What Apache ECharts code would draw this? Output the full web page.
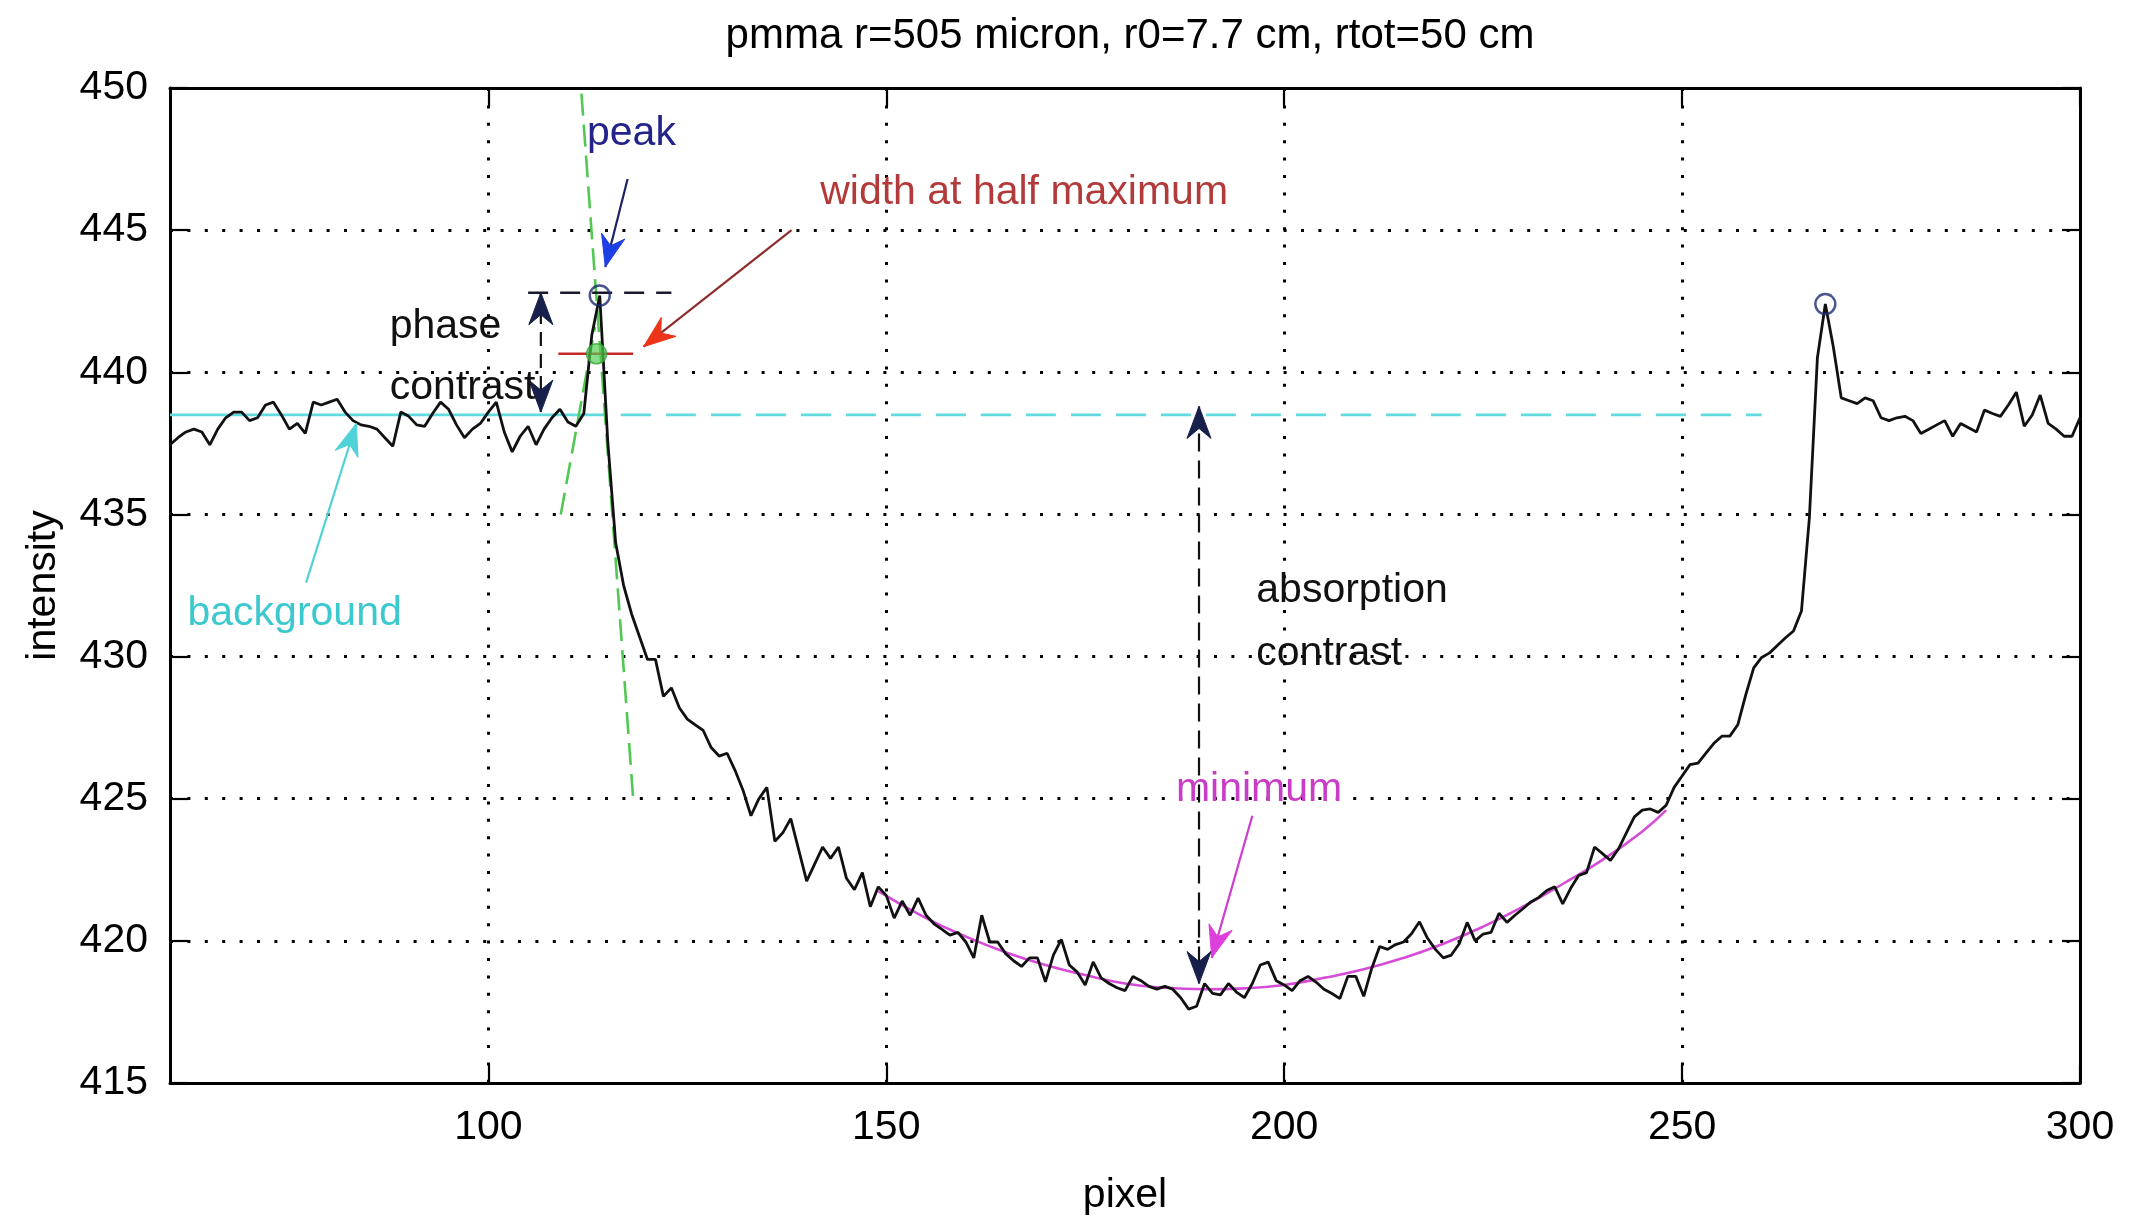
<!DOCTYPE html>
<html>
<head>
<meta charset="utf-8">
<title>pmma profile</title>
<script src="https://cdn.jsdelivr.net/npm/echarts@6/dist/echarts.min.js"></script>
<style>
  html, body { margin: 0; padding: 0; background: #ffffff; }
  #chart { width: 2129px; height: 1216px; }
</style>
</head>
<body>
<div id="chart"></div>
<script>
// ---- measured line profile (detector pixel vs. intensity) ----
const pixel = [
  60, 61, 62, 63, 64, 65, 66, 67, 68, 69, 70, 71, 72, 73, 74, 75, 76, 77, 78, 79,
  80, 81, 82, 83, 84, 85, 86, 87, 88, 89, 90, 91, 92, 93, 94, 95, 96, 97, 98, 99,
  100, 101, 102, 103, 104, 105, 106, 107, 108, 109, 110, 111, 112, 113, 114, 115, 116, 117, 118, 119,
  120, 121, 122, 123, 124, 125, 126, 127, 128, 129, 130, 131, 132, 133, 134, 135, 136, 137, 138, 139,
  140, 141, 142, 143, 144, 145, 146, 147, 148, 149, 150, 151, 152, 153, 154, 155, 156, 157, 158, 159,
  160, 161, 162, 163, 164, 165, 166, 167, 168, 169, 170, 171, 172, 173, 174, 175, 176, 177, 178, 179,
  180, 181, 182, 183, 184, 185, 186, 187, 188, 189, 190, 191, 192, 193, 194, 195, 196, 197, 198, 199,
  200, 201, 202, 203, 204, 205, 206, 207, 208, 209, 210, 211, 212, 213, 214, 215, 216, 217, 218, 219,
  220, 221, 222, 223, 224, 225, 226, 227, 228, 229, 230, 231, 232, 233, 234, 235, 236, 237, 238, 239,
  240, 241, 242, 243, 244, 245, 246, 247, 248, 249, 250, 251, 252, 253, 254, 255, 256, 257, 258, 259,
  260, 261, 262, 263, 264, 265, 266, 267, 268, 269, 270, 271, 272, 273, 274, 275, 276, 277, 278, 279,
  280, 281, 282, 283, 284, 285, 286, 287, 288, 289, 290, 291, 292, 293, 294, 295, 296, 297, 298, 299,
  300
];
const intensity = [
  437.45, 437.7, 437.9, 438.0, 437.9, 437.45, 438.0, 438.4, 438.6, 438.6,
  438.3, 438.4, 438.85, 438.95, 438.5, 438.0, 438.2, 437.85, 438.95, 438.85,
  438.95, 439.05, 438.6, 438.3, 438.15, 438.1, 438.0, 437.7, 437.4, 438.6,
  438.45, 438.15, 438.1, 438.55, 438.95, 438.7, 438.15, 437.7, 438.0, 438.2,
  438.6, 438.95, 437.9, 437.2, 437.75, 438.1, 437.45, 438.0, 438.4, 438.7,
  438.25, 438.1, 438.55, 441.3, 442.7, 437.6, 434.0, 432.5, 431.5, 430.7,
  429.9, 429.9, 428.6, 428.9, 428.2, 427.8, 427.6, 427.4, 426.8, 426.5,
  426.6, 426.0, 425.3, 424.4, 425.0, 425.4, 423.5, 423.8, 424.3, 423.2,
  422.1, 422.7, 423.3, 422.9, 423.3, 422.2, 421.8, 422.4, 421.2, 421.9,
  421.6, 420.8, 421.4, 420.9, 421.5, 420.9, 420.6, 420.4, 420.2, 420.3,
  419.96, 419.4, 420.9, 419.96, 419.96, 419.55, 419.3, 419.1, 419.4, 419.4,
  418.56, 419.5, 420.05, 419.15, 418.9, 418.45, 419.26, 418.7, 418.5, 418.35,
  418.25, 418.75, 418.6, 418.4, 418.3, 418.4, 418.3, 418.0, 417.6, 417.7,
  418.5, 418.15, 418.1, 418.5, 418.2, 418.0, 418.5, 419.15, 419.25, 418.6,
  418.45, 418.25, 418.6, 418.75, 418.55, 418.3, 418.15, 417.97, 418.75, 418.75,
  418.05, 419.03, 419.8, 419.7, 419.87, 419.96, 420.25, 420.67, 420.1, 419.7,
  419.4, 419.5, 419.9, 420.65, 420.0, 420.24, 420.3, 420.97, 420.65, 420.9,
  421.13, 421.37, 421.53, 421.77, 421.9, 421.3, 421.85, 422.3, 422.4, 423.3,
  423.07, 422.83, 423.23, 423.8, 424.36, 424.6, 424.64, 424.52, 424.77, 425.4,
  425.8, 426.2, 426.25, 426.6, 426.95, 427.2, 427.2, 427.6, 428.65, 429.6,
  429.97, 430.13, 430.4, 430.66, 430.9, 431.6, 434.9, 440.5, 442.4, 440.9,
  439.1, 439.0, 438.9, 439.1, 439.0, 438.4, 438.3, 438.4, 438.45, 438.3,
  437.85, 438.0, 438.15, 438.3, 437.75, 438.2, 438.05, 437.9, 438.67, 438.55,
  438.45, 438.85, 439.3, 438.1, 438.5, 439.2, 438.2, 438.0, 437.75, 437.75,
  438.4
];

// ---- smooth fit through the absorption trough ----
const fitPixel = [149, 155, 160, 165, 170, 175, 180, 185, 190, 195, 200, 205, 210, 215, 220, 225, 230, 235, 240, 245, 248];
const fitIntensity = [421.75, 420.8, 420.15, 419.6, 419.15, 418.8, 418.5, 418.35, 418.3, 418.33, 418.45, 418.7, 419.0, 419.4, 419.9, 420.5, 421.2, 422.0, 422.85, 423.85, 424.6];

// ---- derived levels and markers ----
const backgroundLevel = 438.5;
const backgroundSolid = [60, 111];
const backgroundDashed = [111, 260];
const peakPoints = [[114, 442.7], [268, 442.4]];
const halfMaxPoint = [113.6, 440.65];
const halfMaxSpan = [108.8, 118.2];
const peakLevelSpan = [105, 123];
const peakLevel = 442.8;
const tangentRight = [[111.7, 449.8], [118.2, 425.0]];
const tangentLeft = [[109.1, 435.0], [113.4, 441.6]];

// ---- axes ----
const xMin = 60, xMax = 300;
const yMin = 415, yMax = 450, yStep = 5;
const xTickValues = [100, 150, 200, 250, 300];

const FONT = '"Liberation Sans", Arial, Helvetica, sans-serif';
const FS = 41;

const chart = echarts.init(document.getElementById('chart'), null, { renderer: 'canvas' });

const gridDots = { color: '#000', width: 3, type: [3, 14.4] };

function axisX(pos, labels) {
  return {
    type: 'value', position: pos, min: xMin, max: xMax,
    name: labels ? 'pixel' : '', nameLocation: 'middle', nameGap: 92,
    nameTextStyle: { fontSize: FS, fontFamily: FONT, color: '#000' },
    axisLine: { show: true, onZero: false, lineStyle: { color: '#000', width: 3 } },
    axisTick: { show: true, inside: true, length: 18, customValues: xTickValues, lineStyle: { color: '#000', width: 2.2 } },
    axisLabel: { show: labels, customValues: xTickValues, margin: 24, fontSize: FS, fontFamily: FONT, color: '#000' },
    splitLine: { show: labels, lineStyle: gridDots }
  };
}
function axisY(pos, labels) {
  return {
    type: 'value', position: pos, min: yMin, max: yMax, interval: yStep,
    name: labels ? 'intensity' : '', nameLocation: 'middle', nameGap: 106,
    nameTextStyle: { fontSize: FS, fontFamily: FONT, color: '#000' },
    axisLine: { show: true, onZero: false, lineStyle: { color: '#000', width: 3 } },
    axisTick: { show: true, inside: true, length: 18, lineStyle: { color: '#000', width: 2.2 } },
    axisLabel: { show: labels, margin: 22, fontSize: FS, fontFamily: FONT, color: '#000', showMinLabel: true, showMaxLabel: true },
    splitLine: { show: labels, lineStyle: gridDots }
  };
}

function seg(xs, y) { return [[xs[0], y], [xs[1], y]]; }
function lineSeries(name, data, color, width, type, z, smooth) {
  return {
    name, type: 'line', data, xAxisIndex: 0, yAxisIndex: 0,
    showSymbol: false, symbol: 'none', smooth: !!smooth, silent: true, z: z || 2,
    lineStyle: { color, width, type: type || 'solid' }
  };
}

const profile = pixel.map((p, i) => [p, intensity[i]]);
const fitCurve = fitPixel.map((p, i) => [p, fitIntensity[i]]);

chart.setOption({
  animation: false,
  backgroundColor: '#ffffff',
  title: {
    text: 'pmma r=505 micron, r0=7.7 cm, rtot=50 cm',
    left: 1125, top: 10, textAlign: 'center',
    textStyle: { fontSize: 42, fontWeight: 'normal', fontFamily: FONT, color: '#000' }
  },
  grid: { left: 170, right: 49, top: 88, bottom: 133, containLabel: false, outerBoundsMode: 'none' },
  xAxis: [axisX('bottom', true), axisX('top', false)],
  yAxis: [axisY('left', true), axisY('right', false)],
  series: [
    lineSeries('background fit', seg(backgroundSolid, backgroundLevel), '#62dade', 2.8, 'solid', 2),
    lineSeries('background level', seg(backgroundDashed, backgroundLevel), '#62dade', 2.8, [30, 15], 2),
    lineSeries('right flank', tangentRight, '#52c852', 2.6, [22, 9], 3),
    lineSeries('left flank', tangentLeft, '#52c852', 2.6, [22, 9], 3),
    lineSeries('half maximum', seg(halfMaxSpan, halfMaxPoint[1]), '#c42a2a', 2.4, 'solid', 4),
    lineSeries('peak level', seg(peakLevelSpan, peakLevel), '#1a1a2a', 2.4, [20, 12], 4),
    lineSeries('trough fit', fitCurve, '#d64cd6', 2.6, 'solid', 5, true),
    lineSeries('profile', profile, '#111111', 2.8, 'solid', 6),
    {
      name: 'half max', type: 'scatter', data: [halfMaxPoint], symbol: 'circle', symbolSize: 20,
      itemStyle: { color: 'rgba(80,205,80,0.85)', borderColor: '#3aa83a', borderWidth: 1.5 }, z: 7, silent: true
    },
    {
      name: 'peaks', type: 'scatter', data: peakPoints, symbol: 'circle', symbolSize: 20,
      itemStyle: { color: 'rgba(0,0,0,0)', borderColor: '#1d2b6e', borderWidth: 2.4 }, z: 8, silent: true
    }
  ]
});

// ---- annotation layer: arrows and labels placed in data coordinates ----
const toPx = (pt) => chart.convertToPixel({ gridIndex: 0 }, pt);

function arrowHead(tipPx, fromPx, color) {
  const dx = tipPx[0] - fromPx[0], dy = tipPx[1] - fromPx[1];
  const len = Math.hypot(dx, dy) || 1;
  const ux = dx / len, uy = dy / len, nx = -uy, ny = ux;
  const L = 32, W = 24, notch = 10;
  const t = tipPx;
  return {
    type: 'polygon', z: 20, silent: true,
    shape: { points: [
      [t[0], t[1]],
      [t[0] - ux * L + nx * W / 2, t[1] - uy * L + ny * W / 2],
      [t[0] - ux * (L - notch), t[1] - uy * (L - notch)],
      [t[0] - ux * L - nx * W / 2, t[1] - uy * L - ny * W / 2]
    ] },
    style: { fill: color, stroke: color, lineWidth: 1 }
  };
}
function arrow(from, to, lineColor, headColor, dash, both) {
  const a = toPx(from), b = toPx(to);
  const els = [{
    type: 'line', z: 19, silent: true,
    shape: { x1: a[0], y1: a[1], x2: b[0], y2: b[1] },
    style: { stroke: lineColor, lineWidth: 2.2, lineDash: dash || null }
  }, arrowHead(b, a, headColor)];
  if (both) els.push(arrowHead(a, b, headColor));
  return els;
}
function label(text, at, color) {
  const p = toPx(at);
  return {
    type: 'text', z: 21, silent: true,
    style: {
      text, x: p[0], y: p[1], fill: color,
      font: FS + 'px ' + FONT,
      align: 'left', verticalAlign: 'middle',
      textAlign: 'left', textVerticalAlign: 'middle'
    }
  };
}

const graphics = [].concat(
  arrow([117.5, 446.8], [114.7, 443.7], '#1c2466', '#1f3fe6'),
  arrow([138.1, 445.0], [119.5, 440.9], '#8e2c2c', '#ee3418'),
  arrow([77.1, 432.6], [83.4, 438.2], '#4fd2d8', '#4fd2d8'),
  arrow([196.0, 424.4], [190.9, 419.4], '#d03cd0', '#dd3fdd'),
  arrow([106.6, 438.6], [106.6, 442.8], '#111111', '#16204a', [14, 8], true),
  arrow([189.3, 438.8], [189.3, 418.5], '#111111', '#16204a', [18, 9], true),
  [
    label('peak', [112.4, 448.4], '#23238a'),
    label('width at half maximum', [141.7, 446.3], '#b33a3a'),
    label('phase', [87.6, 441.6], '#111111'),
    label('contrast', [87.6, 439.45], '#111111'),
    label('background', [62.2, 431.5], '#3cc8cf'),
    label('absorption', [196.5, 432.3], '#111111'),
    label('contrast', [196.5, 430.1], '#111111'),
    label('minimum', [186.4, 425.3], '#c83cc8')
  ]
);
chart.setOption({ graphic: graphics });
</script>
</body>
</html>
